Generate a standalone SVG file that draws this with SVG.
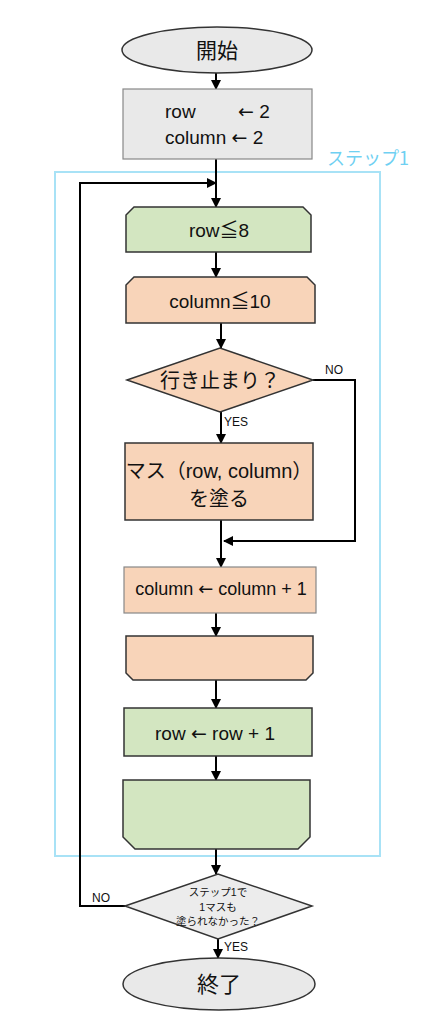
<svg xmlns="http://www.w3.org/2000/svg" width="428" height="1024" viewBox="0 0 428 1024">
<defs>
<marker id="ah" markerWidth="10" markerHeight="10" refX="9" refY="5" orient="auto" markerUnits="userSpaceOnUse">
<path d="M0,0 L10,5 L0,10 Z" fill="#000"/>
</marker>
<style>
.t{font-family:"Liberation Sans","Noto Sans CJK JP",sans-serif;fill:#111;text-anchor:middle}
.a{font-family:"DejaVu Sans",sans-serif}
.n{stroke:#333;stroke-width:1.5}
.g{fill:#d3e6c1}
.p{fill:#f8d4b9}
.gr{fill:#e9e9e9}
.c{fill:none;stroke:#000;stroke-width:2}
.s{font-family:"Liberation Sans",sans-serif;font-size:12px;fill:#111}
</style>
</defs>
<rect width="428" height="1024" fill="#fff"/>

<g id="step1">
<rect x="55" y="172" width="325" height="684" fill="none" stroke="#a8e2f6" stroke-width="2"/>
<text x="327" y="165" font-family="'Noto Sans CJK JP','Liberation Sans',sans-serif" font-size="18" fill="#6fd0f2">ステップ1</text>
</g>

<g id="connectors">
<line class="c" x1="216" y1="73" x2="216" y2="89" marker-end="url(#ah)"/>
<line class="c" x1="216" y1="159" x2="216" y2="207" marker-end="url(#ah)"/>
<polyline class="c" points="125,906 80,906 80,183 216,183" marker-end="url(#ah)"/>
<line class="c" x1="216" y1="252" x2="216" y2="277" marker-end="url(#ah)"/>
<line class="c" x1="221" y1="323" x2="221" y2="348" marker-end="url(#ah)"/>
<line class="c" x1="221" y1="412" x2="221" y2="443" marker-end="url(#ah)"/>
<polyline class="c" points="313,380 355,380 355,541 224,541" marker-end="url(#ah)"/>
<line class="c" x1="221" y1="520" x2="221" y2="567" marker-end="url(#ah)"/>
<line class="c" x1="216" y1="613" x2="216" y2="636" marker-end="url(#ah)"/>
<line class="c" x1="216" y1="680" x2="216" y2="708" marker-end="url(#ah)"/>
<line class="c" x1="216" y1="756" x2="216" y2="780" marker-end="url(#ah)"/>
<line class="c" x1="216" y1="849" x2="216" y2="874" marker-end="url(#ah)"/>
<line class="c" x1="218" y1="939" x2="218" y2="958" marker-end="url(#ah)"/>
<text class="s" x="325" y="374">NO</text>
<text class="s" x="224" y="426">YES</text>
<text class="s" x="92" y="902">NO</text>
<text class="s" x="224" y="951">YES</text>
</g>

<g id="start">
<ellipse class="n gr" cx="217" cy="50" rx="95" ry="23"/>
<text class="t" x="217" y="58" font-size="21">開始</text>
</g>

<g id="init">
<rect x="123" y="89" width="189" height="70" fill="#e9e9e9" stroke="#888" stroke-width="1.2"/>
<text class="t" font-size="19" style="text-anchor:start"><tspan x="165" y="118">row</tspan><tspan x="238" y="118"><tspan class="a">←</tspan> 2</tspan><tspan x="165" y="144">column <tspan class="a">←</tspan> 2</tspan></text>
</g>

<g id="rowloop">
<path class="n g" d="M134,207 L303,207 L311,215 L311,252 L126,252 L126,215 Z"/>
<text class="t" x="219" y="237" font-size="19">row≦8</text>
</g>

<g id="colloop">
<path class="n p" d="M134,277 L307,277 L315,285 L315,323 L126,323 L126,285 Z"/>
<text class="t" x="220" y="308" font-size="19">column≦10</text>
</g>

<g id="deadend">
<polygon class="n p" points="127,380 220,348 313,380 220,412"/>
<text class="t" x="220" y="388" font-size="20">行き止まり？</text>
</g>

<g id="paint">
<rect class="n p" x="125" y="443" width="188" height="77"/>
<text class="t" x="219" y="478" font-size="20">マス（row, column）</text>
<text class="t" x="219" y="506" font-size="20">を塗る</text>
</g>

<g id="colinc">
<rect x="124" y="567" width="192" height="46" fill="#f8d4b9" stroke="#888" stroke-width="1.2"/>
<text class="t" x="221" y="595" font-size="18">column <tspan class="a">←</tspan> column + 1</text>
</g>

<g id="colloopend">
<path class="n p" d="M126,636 L313,636 L313,673 L306,680 L133,680 L126,673 Z"/>
</g>

<g id="rowinc">
<rect class="n g" x="124" y="708" width="188" height="48"/>
<text class="t" x="215" y="740" font-size="19">row <tspan class="a">←</tspan> row + 1</text>
</g>

<g id="rowloopend">
<path class="n g" d="M123,780 L310,780 L310,837 L298,849 L135,849 L123,837 Z"/>
</g>

<g id="check">
<polygon class="n" fill="#ececec" points="125,906 218,874 312,906 218,939"/>
<text class="t" x="218" y="896" font-size="10.5">ステップ1で</text>
<text class="t" x="218" y="911" font-size="10.5">1マスも</text>
<text class="t" x="218" y="925" font-size="10.5">塗られなかった？</text>
</g>

<g id="end">
<ellipse class="n gr" cx="219" cy="984" rx="96" ry="26"/>
<text class="t" x="219" y="992" font-size="22">終了</text>
</g>
</svg>
